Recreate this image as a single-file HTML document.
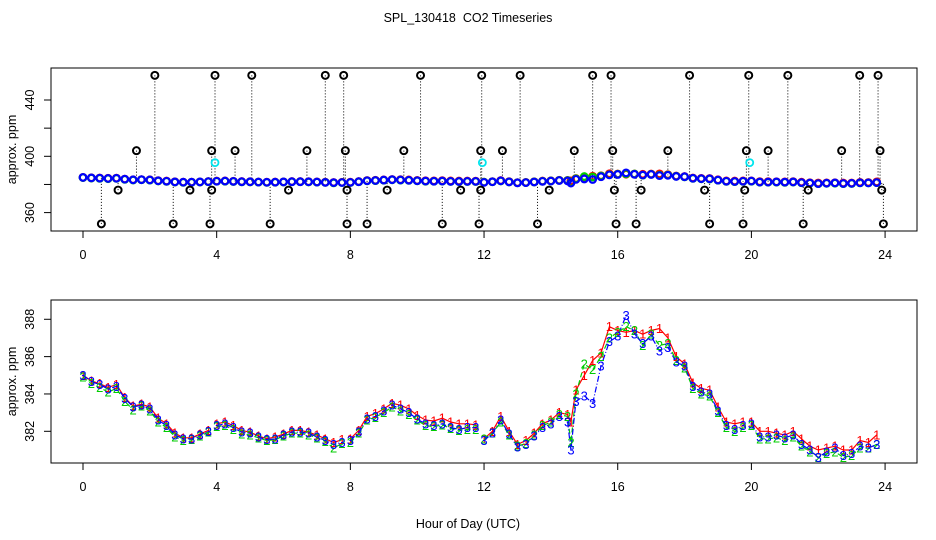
<!DOCTYPE html>
<html><head><meta charset="utf-8"><style>
html,body{margin:0;padding:0;background:#fff;}
svg{display:block;font-family:"Liberation Sans",sans-serif;}
</style></head><body>
<svg id="chart" width="936" height="540" viewBox="0 0 936 540">
<text x="468" y="22" text-anchor="middle" font-size="12.5" style="white-space:pre">SPL_130418  CO2 Timeseries</text>
<text x="468" y="528" text-anchor="middle" font-size="12.5">Hour of Day (UTC)</text>
<g id="top"></g>
<g id="bot"></g>
</svg>
<script>
const times = [0,0.25,0.5,0.75,1,1.25,1.5,1.75,2,2.25,2.5,2.75,3,3.25,3.5,3.75,3.875,
4,4.25,4.5,4.75,5,5.25,5.5,5.75,6,6.25,6.5,6.75,7,7.25,7.5,7.75,7.875,
8,8.25,8.5,8.75,9,9.25,9.5,9.75,10,10.25,10.5,10.75,11,11.25,11.5,11.75,11.875,
12,12.25,12.5,12.75,13,13.25,13.5,13.75,14,14.25,14.5,14.6,14.75,15,15.25,15.5,15.75,16,16.25,16.5,16.75,17,17.25,17.5,17.75,18,18.25,18.5,18.75,19,19.25,19.5,19.75,19.875,
20,20.25,20.5,20.75,21,21.25,21.5,21.75,22,22.25,22.5,22.75,23,23.25,23.5,23.75];
const series3 = [385.0,384.66,384.5,384.27,384.4,383.77,383.3,383.4,383.2,382.6,382.3,381.8,381.6,381.6,381.8,382.0,null,
382.3,382.4,382.2,381.95,381.9,381.7,381.55,381.6,381.8,381.95,381.95,381.9,381.7,381.5,381.3,381.4,null,
381.5,381.95,382.65,382.8,383.1,383.4,383.2,383.0,382.65,382.4,382.3,382.4,382.2,382.1,382.2,382.2,null,
381.5,381.9,382.6,381.85,381.15,381.3,381.75,382.2,382.4,382.8,382.5,381.0,383.6,383.9,383.5,385.5,386.8,387.1,388.2,387.2,386.7,387.1,386.3,386.5,385.7,385.5,384.4,384.1,384.0,383.1,382.3,382.1,382.3,null,
382.4,381.7,381.7,381.8,381.65,381.8,381.3,381.0,380.6,380.9,381.1,380.7,380.8,381.2,381.1,381.3];
const series2 = [384.9,384.55,384.35,384.1,384.3,383.6,383.15,383.35,383.1,382.5,382.2,381.7,381.5,381.55,381.75,381.95,null,
382.25,382.3,382.1,381.85,381.8,381.65,381.5,381.55,381.75,381.9,381.9,381.8,381.65,381.45,381.1,381.35,null,
381.4,381.9,382.6,382.75,383.0,383.3,383.1,382.9,382.6,382.3,382.25,382.35,382.15,382.05,382.1,382.1,null,
381.6,381.9,382.5,381.8,381.2,381.35,381.8,382.3,382.5,382.9,382.8,381.4,384.0,385.6,385.3,386.0,387.0,387.3,387.6,387.4,386.6,387.2,386.6,386.7,385.8,385.4,384.3,384.0,383.9,383.0,382.2,382.0,382.2,null,
382.3,381.6,381.6,381.65,381.5,381.7,381.2,380.9,380.6,380.8,380.9,380.6,380.7,381.1,381.1,381.3];
const series1 = [385.0,384.7,384.55,384.35,384.5,383.8,383.35,383.45,383.3,382.7,382.4,381.9,381.65,381.65,381.85,382.05,null,
382.4,382.5,382.3,382.05,381.95,381.75,381.6,381.7,381.85,382.05,382.05,381.95,381.8,381.6,381.4,381.55,null,
381.6,382.05,382.8,382.95,383.2,383.5,383.4,383.2,382.85,382.6,382.55,382.7,382.5,382.4,382.4,382.35,null,
381.6,382.0,382.8,382.0,381.3,381.5,381.9,382.4,382.6,383.0,382.9,382.5,384.2,385.0,385.8,386.2,387.6,387.4,387.3,387.4,387.2,387.4,387.5,387.0,386.0,385.6,384.6,384.3,384.2,383.3,382.5,382.4,382.5,null,
382.5,382.0,382.0,381.9,381.8,382.0,381.6,381.2,381.0,381.1,381.2,381.0,381.0,381.5,381.4,381.8];
const outlierTimes = [2.15,3.95,5.05,7.25,7.8,10.1,11.93,13.08,15.25,15.8,18.15,19.92,21.09,23.24,23.79,
1.6,3.85,4.55,6.7,7.85,9.6,11.9,12.55,14.7,15.85,17.5,19.85,20.5,22.7,23.85,
1.05,3.2,3.85,6.15,7.9,9.1,11.3,11.9,13.95,15.9,16.7,18.6,19.8,21.7,23.9,
0.55,2.7,3.8,5.6,7.9,8.5,10.75,11.85,13.6,15.95,16.55,18.75,19.75,21.55,23.95];
const outlierValues = [457.5,457.5,457.5,457.5,457.5,457.5,457.5,457.5,457.5,457.5,457.5,457.5,457.5,457.5,457.5,
404,404,404,404,404,404,404,404,404,404,404,404,404,404,404,
376,376,376,376,376,376,376,376,376,376,376,376,376,376,376,
352,352,352,352,352,352,352,352,352,352,352,352,352,352,352];
const cyanTimes = [3.95,11.95,19.95];
const cyanValues = [395.5,395.5,395.5];
const xTicks = [0,4,8,12,16,20,24];
const topYTicks = [360,380,400,420,440];
const topYLabels = ["360","","400","","440"];
const botYTicks = [382,384,386,388];

const NS="http://www.w3.org/2000/svg";
function mk(parent,tag,attrs){const e=document.createElementNS(NS,tag);for(const k in attrs)e.setAttribute(k,attrs[k]);parent.appendChild(e);return e;}
const xs = h => 83 + h*33.42;
const yTop = v => 156.3 - (v-400)*1.4075;
const yBot = v => 431.3 - (v-382)*18.67;
const colors=["#ff0000","#00cc00","#0000ff"];
const allSeries=[series1,series2,series3];

function axes(g,top,bottom,yf,ticks,labels,name){
  const box=mk(g,'rect',{x:51,y:top,width:866,height:bottom-top,fill:'none',stroke:'#000','stroke-width':1});
  
  
  const xa=mk(g,'line',{x1:xs(0),x2:xs(24),y1:bottom,y2:bottom,stroke:'#000'});
  
  
  xTicks.forEach(t=>{
    const tk=mk(g,'line',{x1:xs(t),x2:xs(t),y1:bottom,y2:bottom+7,stroke:'#000'});
    
    
    const tl=mk(g,'text',{x:xs(t),y:bottom+28,'text-anchor':'middle','font-size':12.5});
    tl.textContent=t;
    
    
  });
  ticks.forEach((t,i)=>{
    const y=yf(t);
    const tk=mk(g,'line',{x1:44,x2:51,y1:y,y2:y,stroke:'#000'});
    
    
    if(labels[i]){
      const tl=mk(g,'text',{x:0,y:0,'text-anchor':'middle','font-size':12.5,transform:`translate(34,${y}) rotate(-90)`});
      tl.textContent=labels[i];
      
      
    }
  });
  const yl=mk(g,'text',{x:0,y:0,'text-anchor':'middle','font-size':12.5,transform:`translate(16,${(top+bottom)/2}) rotate(-90)`});
  yl.textContent='approx. ppm';
  
  
}

// TOP PANEL
const gt=document.getElementById('top');
axes(gt,68,231,yTop,topYTicks,topYLabels,'top');
function nearestBand(t){let best=0,bd=1e9;times.forEach((tt,i)=>{if(series3[i]!=null&&Math.abs(tt-t)<bd){bd=Math.abs(tt-t);best=series3[i];}});return best;}
outlierTimes.forEach((t,i)=>{
  const v=outlierValues[i];
  const base=nearestBand(t);
  const l=mk(gt,'line',{x1:xs(t),x2:xs(t),y1:yTop(v),y2:yTop(base),stroke:'#000','stroke-dasharray':'1,2','stroke-width':1});
  
  
});
allSeries.forEach((s,k)=>{
  times.forEach((t,i)=>{
    if(s[i]==null)return;
    const c=mk(gt,'circle',{cx:xs(t),cy:yTop(s[i]),r:3.3,fill:'none',stroke:colors[k],'stroke-width':2.2});
    
    
  });
});
outlierTimes.forEach((t,i)=>{
  const c=mk(gt,'circle',{cx:xs(t),cy:yTop(outlierValues[i]),r:3.5,fill:'none',stroke:'#000','stroke-width':2});
  
  
});
cyanTimes.forEach((t,i)=>{
  const c=mk(gt,'circle',{cx:xs(t),cy:yTop(cyanValues[i]),r:3.5,fill:'none',stroke:'#00e5ee','stroke-width':1.8});
  
  
});

// BOTTOM PANEL
const gb=document.getElementById('bot');
axes(gb,300,463,yBot,botYTicks,botYTicks.map(String),'bottom');
const dashes=['none','5,3','6,2,1,2'];
allSeries.forEach((s,k)=>{
  let d='',pen=false;
  times.forEach((t,i)=>{
    if(s[i]==null){pen=false;return;}
    d+=(pen?'L':'M')+xs(t).toFixed(1)+','+yBot(s[i]).toFixed(1);pen=true;
  });
  const p=mk(gb,'path',{d:d,fill:'none',stroke:colors[k],'stroke-width':1.2,'stroke-dasharray':dashes[k]});
  
  
});
allSeries.forEach((s,k)=>{
  times.forEach((t,i)=>{
    if(s[i]==null)return;
    const tx=mk(gb,'text',{x:xs(t),y:yBot(s[i])+4.5,'text-anchor':'middle','font-size':13,fill:colors[k]});
    tx.textContent=String(k+1);
    
    
  });
});
</script>
</body></html>
